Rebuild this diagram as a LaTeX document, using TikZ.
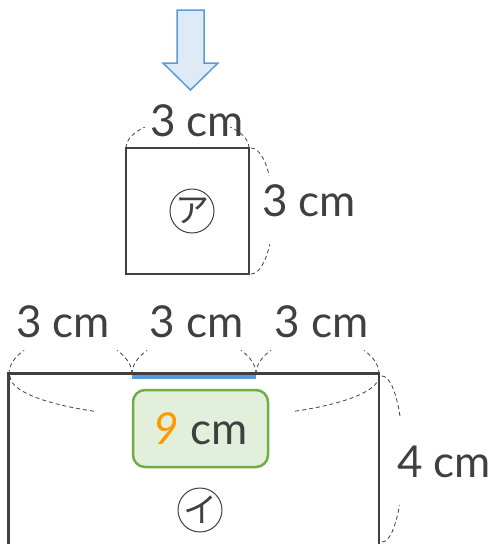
\documentclass[tikz,border=0pt]{standalone}
\usepackage{fontspec}
\setmainfont{Lato}
\newfontfamily\jpfont{Noto Sans CJK JP}
\definecolor{inkgray}{HTML}{404040}
\definecolor{arrowblue}{HTML}{5B9BD5}
\definecolor{arrowfill}{HTML}{DEEBF7}
\definecolor{boxgreen}{HTML}{70AD47}
\definecolor{boxfill}{HTML}{E2EFDA}
\definecolor{ansorange}{HTML}{FF9900}

\begin{document}
\begin{tikzpicture}[x=1pt,y=-1pt,
    edge/.style={draw=inkgray, line width=2.2pt, line join=miter},
    dimarc/.style={draw=inkgray, line width=0.8pt, dash pattern=on 4pt off 3pt},
    dimlabel/.style={text=inkgray, inner sep=0pt, font=\fontsize{44}{48}\selectfont},
    tag/.style={circle, draw=inkgray, line width=1pt, minimum size=44pt,
      inner sep=0pt, text=inkgray, font=\jpfont\fontsize{34}{34}\selectfont},
    answer/.style={rectangle, rounded corners=12pt, draw=boxgreen, fill=boxfill,
      line width=2.5pt, minimum width=135pt, minimum height=77pt, text=inkgray,
      font=\fontsize{44}{48}\selectfont}
    ]
\useasboundingbox (0,0) rectangle (496,544);
\clip (0,0) rectangle (496,544);

% view arrow
\draw[draw=arrowblue, fill=arrowfill, line width=1.5pt, line join=miter]
  (177,10) -- (204,10) -- (204,63) -- (218,63) -- (190.5,90)
  -- (163,63) -- (177,63) -- cycle;

% square
\draw[edge] (126,148) rectangle (249,274);
\node[tag] (A) at (192,211) {ア};
\node[dimlabel] (top) at (197,121) {3 cm};
\node[dimlabel] (side) at (309,201) {3 cm};
\draw[dimarc] (126,148) arc[start angle=180, end angle=226, x radius=61.5, y radius=29];
\draw[dimarc] (249,148) arc[start angle=0, end angle=-46, x radius=61.5, y radius=29];
\draw[dimarc] (251,148) arc[start angle=-90, end angle=-34, x radius=22, y radius=63];
\draw[dimarc] (251,274) arc[start angle=90, end angle=32, x radius=22, y radius=63];

% rectangle
\draw[edge] (8.5,560) -- (8.5,373.5) -- (379,373.5) -- (379,560);
\draw[draw=arrowblue, line width=4pt] (132,377) -- (256,377);
\node[tag] (B) at (200,510) {イ};
\node[answer] (ans) at (200.5,428.5) {\textcolor{ansorange}{\itshape 9} cm};

\node[dimlabel] (w1) at (63,322) {3 cm};
\node[dimlabel] (w2) at (196.5,322) {3 cm};
\node[dimlabel] (w3) at (321.5,322) {3 cm};
\node[dimlabel] (h) at (444,461.5) {4 cm};

\foreach \xa/\xb in {9/132,132/256,256/379}{
  \pgfmathsetmacro\rx{(\xb-\xa)/2}
  \draw[dimarc] (\xa,374) arc[start angle=180, end angle=221, x radius=\rx, y radius=36];
  \draw[dimarc] (\xb,374) arc[start angle=0, end angle=-41, x radius=\rx, y radius=36];
}
\draw[dimarc] (10,376) arc[start angle=180, end angle=122, x radius=184.5, y radius=42];
\draw[dimarc] (379,376) arc[start angle=0, end angle=58, x radius=184.5, y radius=42];
\draw[dimarc] (382,376) arc[start angle=-90, end angle=-30, x radius=21, y radius=83];
\draw[dimarc] (382,542) arc[start angle=90, end angle=34, x radius=21, y radius=83];
\end{tikzpicture}
\end{document}
